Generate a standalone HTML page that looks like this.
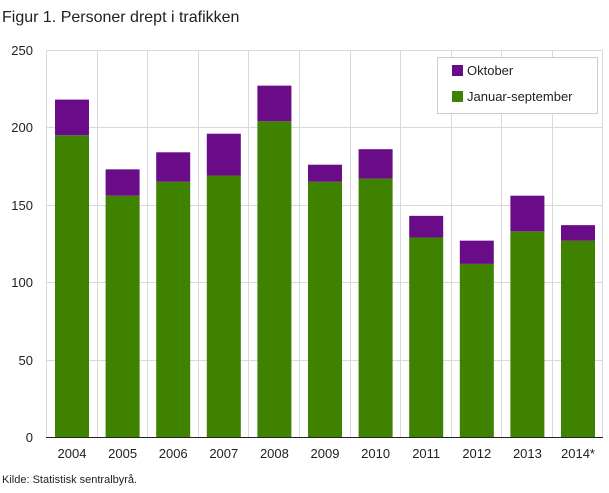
<!DOCTYPE html>
<html><head><meta charset="utf-8"><style>
body{margin:0;background:#fff;}
svg text{font-family:"Liberation Sans",sans-serif;}
</style></head><body>
<svg width="609" height="488" xmlns="http://www.w3.org/2000/svg">
<text x="2" y="22" font-size="16" fill="#222">Figur 1. Personer drept i trafikken</text>
<g stroke="#d9d9d9" stroke-width="1">
<line x1="46" y1="50.5" x2="603" y2="50.5"/>
<line x1="46" y1="127.5" x2="603" y2="127.5"/>
<line x1="46" y1="205.5" x2="603" y2="205.5"/>
<line x1="46" y1="282.5" x2="603" y2="282.5"/>
<line x1="46" y1="360.5" x2="603" y2="360.5"/>
<line x1="46.5" y1="50" x2="46.5" y2="437"/>
<line x1="97.5" y1="50" x2="97.5" y2="437"/>
<line x1="147.5" y1="50" x2="147.5" y2="437"/>
<line x1="198.5" y1="50" x2="198.5" y2="437"/>
<line x1="248.5" y1="50" x2="248.5" y2="437"/>
<line x1="299.5" y1="50" x2="299.5" y2="437"/>
<line x1="350.5" y1="50" x2="350.5" y2="437"/>
<line x1="400.5" y1="50" x2="400.5" y2="437"/>
<line x1="451.5" y1="50" x2="451.5" y2="437"/>
<line x1="501.5" y1="50" x2="501.5" y2="437"/>
<line x1="552.5" y1="50" x2="552.5" y2="437"/>
<line x1="602.5" y1="50" x2="602.5" y2="437"/>
</g>
<g font-size="13" fill="#222" text-anchor="end">
<text x="33" y="55">250</text><text x="33" y="132">200</text><text x="33" y="210">150</text>
<text x="33" y="287">100</text><text x="33" y="365">50</text><text x="33" y="442">0</text>
</g>
<g id="bars"></g>
<line x1="46" y1="437.5" x2="603" y2="437.5" stroke="#222" stroke-width="1"/>
<g font-size="13" fill="#222" text-anchor="middle" id="xl"></g>
<rect x="437.5" y="57.5" width="160" height="56" fill="#fff" stroke="#ccc"/>
<rect x="452" y="65" width="11" height="11" fill="#6a0b87"/>
<text x="467" y="75" font-size="13" fill="#222">Oktober</text>
<rect x="452" y="91" width="11" height="11" fill="#3f8200"/>
<text x="467" y="101" font-size="13" fill="#222">Januar-september</text>
<text x="2" y="483" font-size="11" fill="#222">Kilde: Statistisk sentralbyrå.</text>
<script>
var d=[[2004,195,218],[2005,156,173],[2006,165,184],[2007,169,196],[2008,204,227],[2009,165,176],[2010,167,186],[2011,129,143],[2012,112,127],[2013,133,156],[2014,127,137]];
var g=document.getElementById('bars'),xl=document.getElementById('xl'),ns='http://www.w3.org/2000/svg';
d.forEach(function(r,i){var x=55+i*50.6,y0=437.5,s=1.55;
function R(a,b,c){var e=document.createElementNS(ns,'rect');e.setAttribute('x',x);e.setAttribute('width',34);e.setAttribute('y',y0-b*s);e.setAttribute('height',(b-a)*s);e.setAttribute('fill',c);g.appendChild(e);}
R(0,r[1],'#3f8200');R(r[1],r[2],'#6a0b87');
var t=document.createElementNS(ns,'text');t.setAttribute('x',x+17);t.setAttribute('y',458);t.textContent=r[0]+(i==10?'*':'');xl.appendChild(t);});
</script>
</svg>
</body></html>
